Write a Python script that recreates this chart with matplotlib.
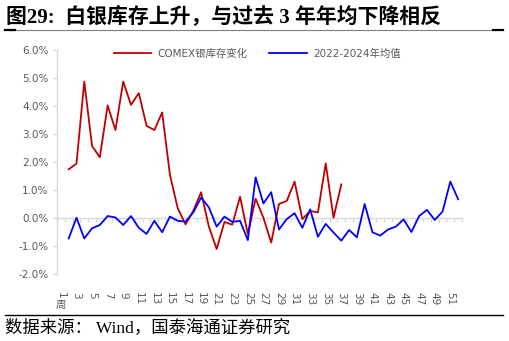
import numpy as np
import matplotlib
matplotlib.use("Agg")
import matplotlib.pyplot as plt
from matplotlib.lines import Line2D

plt.rcParams['font.family'] = ['DejaVu Sans', 'Noto Sans CJK SC']

# week numbers on the category axis
weeks = np.arange(1, 53)
tick_weeks = np.arange(1, 52, 2)

# COMEX silver inventory change, % (weeks 2-37)
comex_weeks = np.arange(2, 38)
comex_chg = [1.74, 1.94, 4.87, 2.57, 2.17, 4.02, 3.14, 4.87, 4.04, 4.46,
             3.29, 3.14, 3.77, 1.54, 0.35, -0.23, 0.26, 0.92, -0.31, -1.11,
             -0.14, -0.24, 0.76, -0.57, 0.69, 0.01, -0.88, 0.50, 0.61, 1.30,
             -0.04, 0.25, 0.20, 1.95, 0.01, 1.20]

# 2022-2024 average, % (weeks 2-52)
avg_weeks = np.arange(2, 53)
avg_chg = [-0.73, 0.01, -0.73, -0.37, -0.25, 0.07, 0.02, -0.25, 0.07, -0.35,
           -0.57, -0.10, -0.51, 0.05, -0.10, -0.13, 0.20, 0.73, 0.38, -0.31,
           0.05, -0.14, -0.10, -0.79, 1.45, 0.52, 0.92, -0.41, -0.04, 0.17,
           -0.35, 0.31, -0.67, -0.21, -0.52, -0.81, -0.43, -0.69, 0.50, -0.51,
           -0.63, -0.41, -0.31, -0.05, -0.50, 0.07, 0.29, -0.07, 0.23, 1.30,
           0.67]

red = '#C00000'
blue = '#0000FF'
gray = '#595959'
axis_gray = '#D9D9D9'

fig = plt.figure(figsize=(5.09, 3.41), dpi=100)
ax = fig.add_axes([0.112, 0.1965, 0.7957, 0.6569])

ax.plot(comex_weeks, comex_chg, color=red, lw=1.3, label='COMEX银库存变化')
ax.plot(avg_weeks, avg_chg, color=blue, lw=1.3, label='2022-2024年均值')

ax.set_xlim(weeks[0] - 0.5, weeks[-1] + 0.5)
ax.set_ylim(-2, 6)
ax.set_yticks(np.arange(-2, 7, 1))
ax.set_yticklabels(['%.1f%%' % v for v in np.arange(-2, 7, 1)])

for s in ['top', 'right', 'bottom']:
    ax.spines[s].set_visible(False)
ax.spines['left'].set_color(axis_gray)
ax.spines['left'].set_linewidth(1.0)
ax.tick_params(axis='y', colors=axis_gray, labelcolor=gray, labelsize=7.5,
               length=3, width=1.0, pad=3)

# category labels at the bottom, rotated
ax.set_xticks(tick_weeks)
ax.set_xticklabels([str(w) for w in tick_weeks], rotation=-90)
ax.tick_params(axis='x', length=0, labelcolor=gray, labelsize=7.5, pad=13)
ax.text(tick_weeks[0], -0.115, '周', transform=ax.get_xaxis_transform(),
        ha='center', va='top', fontsize=7.5, color=gray,
        family='Noto Sans CJK SC')

# zero line with category boundary ticks
zero_ax = ax.secondary_xaxis(0.25)
zero_ax.spines['bottom'].set_color(axis_gray)
zero_ax.spines['bottom'].set_linewidth(1.0)
zero_ax.set_xticks(np.arange(weeks[0] - 0.5, weeks[-1] + 1, 1))
zero_ax.tick_params(axis='x', direction='out', length=3, width=1.0,
                    color=axis_gray, labelbottom=False)

leg = ax.legend(loc='center left', bbox_to_anchor=(0.223, 0.842),
                bbox_transform=fig.transFigure, ncol=2, frameon=False,
                handlelength=3.6, handletextpad=0.6,
                columnspacing=2.1, borderpad=0, borderaxespad=0,
                prop={'family': ['DejaVu Sans', 'Noto Sans CJK SC'], 'size': 7.5})
for t in leg.get_texts():
    t.set_color(gray)

# title and footer
fig.text(0.012, 0.952, '图29:  白银库存上升，与过去 3 年年均下降相反',
         fontsize=15, fontweight='bold', va='center', ha='left',
         family=['Liberation Serif', 'Noto Sans CJK SC'])
fig.add_artist(Line2D([0.02, 0.975], [0.912, 0.912], color='#7F7F7F', lw=0.8))
fig.add_artist(Line2D([0.01, 0.03], [0.912, 0.912], color='black', lw=1.6))
fig.add_artist(Line2D([0.968, 0.988], [0.912, 0.912], color='black', lw=1.6))

fig.add_artist(Line2D([0.01, 0.988], [0.077, 0.077], color='black', lw=1.0))
fig.text(0.01, 0.038, '数据来源： Wind，国泰海通证券研究', fontsize=12.5,
         va='center', ha='left', family=['Liberation Serif', 'Noto Sans CJK SC'])

fig.savefig('out.png', dpi=100)
